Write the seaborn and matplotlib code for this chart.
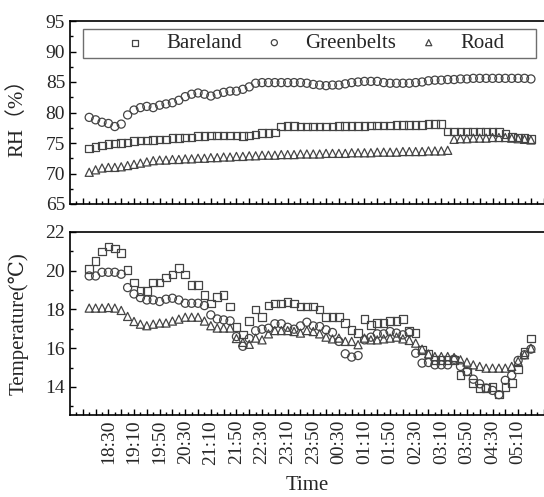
import matplotlib
matplotlib.use("Agg")
import matplotlib.pyplot as plt
from matplotlib.patches import Rectangle
from matplotlib.ticker import MultipleLocator, FixedLocator
import seaborn as sns
import pandas as pd

# ---------------- data ----------------
times = [f"{(18 + (10 * k) // 60) % 24:02d}:{(10 * k) % 60:02d}" for k in range(70)]
tick_labels = ["18:30", "19:10", "19:50", "20:30", "21:10", "21:50", "22:30", "23:10",
               "23:50", "00:30", "01:10", "01:50", "02:30", "03:10", "03:50", "04:30", "05:10"]
series_names = ["Bareland", "Greenbelts", "Road"]

rh_bareland = [74.1, 74.3, 74.6, 74.8, 74.9, 75.0, 75.1, 75.3, 75.4, 75.4,
               75.5, 75.6, 75.6, 75.8, 75.8, 75.9, 75.9, 76.1, 76.1, 76.2,
               76.2, 76.2, 76.2, 76.2, 76.1, 76.2, 76.4, 76.6, 76.6, 76.7,
               77.7, 77.8, 77.8, 77.7, 77.7, 77.7, 77.7, 77.7, 77.7, 77.8,
               77.8, 77.8, 77.8, 77.8, 77.9, 77.9, 77.9, 77.9, 78.0, 78.0,
               78.0, 78.0, 78.0, 78.1, 78.1, 78.1, 76.9, 76.9, 76.9, 76.9,
               76.9, 76.9, 76.9, 76.9, 76.8, 76.5, 76.0, 75.9, 75.8, 75.7]
rh_greenbelts = [79.2, 78.8, 78.4, 78.2, 77.7, 78.1, 79.6, 80.4, 80.8, 81.0,
                 80.8, 81.2, 81.4, 81.6, 82.0, 82.6, 83.0, 83.2, 83.0, 82.7,
                 83.0, 83.3, 83.5, 83.5, 83.8, 84.2, 84.8, 84.9, 84.9, 84.9,
                 84.9, 84.9, 84.9, 84.9, 84.8, 84.6, 84.5, 84.4, 84.5, 84.5,
                 84.7, 84.9, 85.0, 85.1, 85.1, 85.1, 84.9, 84.8, 84.8, 84.8,
                 84.8, 84.9, 85.0, 85.2, 85.3, 85.3, 85.4, 85.4, 85.5, 85.5,
                 85.6, 85.6, 85.6, 85.6, 85.6, 85.6, 85.6, 85.6, 85.6, 85.5]
rh_road = [70.2, 70.6, 70.9, 71.0, 71.0, 71.1, 71.3, 71.5, 71.7, 71.9,
           72.1, 72.2, 72.2, 72.3, 72.3, 72.4, 72.4, 72.5, 72.5, 72.6,
           72.6, 72.7, 72.7, 72.8, 72.8, 72.9, 72.9, 73.0, 73.0, 73.0,
           73.1, 73.1, 73.1, 73.2, 73.2, 73.2, 73.2, 73.3, 73.3, 73.3,
           73.3, 73.4, 73.4, 73.4, 73.4, 73.5, 73.5, 73.5, 73.5, 73.6,
           73.6, 73.6, 73.6, 73.7, 73.7, 73.7, 73.8, 75.6, 75.7, 75.7,
           75.8, 75.8, 75.8, 75.9, 75.9, 75.9, 75.8, 75.7, 75.6, 75.5]

t_bareland = [20.1, 20.5, 21.0, 21.25, 21.15, 20.9, 20.05, 19.4, 18.95, 18.95,
              19.4, 19.4, 19.65, 19.8, 20.15, 19.8, 19.25, 19.25, 18.75, 18.3,
              18.65, 18.75, 18.15, 17.1, 16.7, 17.4, 18.0, 17.6, 18.2, 18.3,
              18.3, 18.4, 18.3, 18.15, 18.15, 18.15, 18.0, 17.6, 17.6, 17.6,
              17.3, 16.95, 16.8, 17.5, 17.2, 17.3, 17.3, 17.4, 17.4, 17.5,
              16.9, 16.8, 15.9, 15.7, 15.4, 15.4, 15.4, 15.4, 14.6, 14.8,
              14.2, 13.95, 13.95, 14.0, 13.6, 14.0, 14.2, 14.9, 15.8, 16.5]
t_greenbelts = [19.73, 19.73, 19.92, 19.92, 19.92, 19.82, 19.13, 18.8, 18.61, 18.49,
                18.49, 18.41, 18.53, 18.58, 18.49, 18.32, 18.32, 18.32, 18.2, 17.72,
                17.51, 17.46, 17.41, 16.6, 16.1, 16.5, 16.9, 16.98, 17.03, 17.26,
                17.26, 17.08, 16.98, 17.15, 17.34, 17.15, 17.12, 16.95, 16.81, 16.35,
                15.71, 15.54, 15.62, 16.43, 16.57, 16.74, 16.74, 16.86, 16.78, 16.69,
                16.81, 15.74, 15.23, 15.26, 15.14, 15.14, 15.14, 15.43, 15.06, 14.8,
                14.4, 14.16, 13.94, 13.82, 13.6, 14.34, 14.6, 15.37, 15.66, 15.95]
t_road = [18.07, 18.07, 18.07, 18.1, 18.07, 17.95, 17.64, 17.38, 17.24, 17.16,
          17.24, 17.3, 17.3, 17.4, 17.5, 17.6, 17.6, 17.6, 17.4, 17.16,
          17.04, 17.04, 17.04, 16.5, 16.3, 16.2, 16.52, 16.43, 16.74, 16.91,
          16.91, 16.91, 16.86, 16.78, 16.91, 16.86, 16.74, 16.57, 16.48, 16.52,
          16.35, 16.35, 16.18, 16.52, 16.43, 16.43, 16.48, 16.52, 16.57, 16.48,
          16.4, 16.26, 15.95, 15.7, 15.57, 15.57, 15.57, 15.52, 15.4, 15.28,
          15.14, 15.06, 14.97, 14.97, 14.97, 14.97, 15.06, 15.32, 15.66, 16.0]

# ---------------- style ----------------
sns.set_style("ticks")
plt.rcParams["font.family"] = ["Liberation Serif", "DejaVu Serif", "Noto Sans CJK SC"]
plt.rcParams["axes.linewidth"] = 1.2

EDGE = "#444444"
markers = {"Bareland": "s", "Greenbelts": "o", "Road": "^"}
sizes = {"Bareland": 30, "Greenbelts": 34, "Road": 34}

idx = list(range(len(times)))
rh_df = pd.DataFrame({"i": idx * 3,
                      "val": rh_bareland + rh_greenbelts + rh_road,
                      "site": sum([[n] * len(times) for n in series_names], [])})
t_df = pd.DataFrame({"i": idx * 3,
                     "val": t_bareland + t_greenbelts + t_road,
                     "site": sum([[n] * len(times) for n in series_names], [])})

fig = plt.figure(figsize=(5.44, 4.97), dpi=100)
W, H = 544.0, 497.0
ax1 = fig.add_axes([70 / W, 1 - 204 / H, 475 / W, 183 / H])
ax2 = fig.add_axes([70 / W, 1 - 415 / H, 475 / W, 183 / H])

for ax, df in ((ax1, rh_df), (ax2, t_df)):
    for name in series_names:
        sub = df[df["site"] == name]
        sns.scatterplot(data=sub, x="i", y="val", ax=ax, marker=markers[name],
                        s=sizes[name], facecolor="none", edgecolor=EDGE,
                        linewidth=0.9, label=name, legend=False)

major_pos = list(range(-1, 72, 2))
major_lab = [times[p] if 0 <= p < len(times) and times[p] in tick_labels else "" for p in major_pos]

for ax in (ax1, ax2):
    ax.set_xlim(-3, 71.2)
    ax.xaxis.set_major_locator(FixedLocator(major_pos))
    ax.xaxis.set_minor_locator(MultipleLocator(2))
    ax.tick_params(axis="both", which="major", direction="in", length=4, width=1,
                   labelsize=14, top=False, right=False, color="black")
    ax.tick_params(axis="both", which="minor", direction="in", length=2.2, width=1,
                   top=False, right=False, color="black")
    for s in ax.spines.values():
        s.set_color("black")
    ax.set_xlabel("")

ax1.set_xticklabels([""] * len(major_pos))
ax2.set_xticklabels(major_lab, rotation=90)

ax1.set_ylim(65, 95)
ax1.yaxis.set_major_locator(MultipleLocator(5))
ax1.yaxis.set_minor_locator(MultipleLocator(2.5))
ax2.set_ylim(12.55, 22)
ax2.yaxis.set_major_locator(MultipleLocator(2))
ax2.yaxis.set_minor_locator(MultipleLocator(1))

ax1.set_ylabel("RH（%）", fontsize=15)
ax2.set_ylabel("Temperature(℃)", fontsize=15)
ax1.yaxis.set_label_coords(-0.09, 0.5)
ax2.yaxis.set_label_coords(-0.087, 0.5)
ax2.set_xlabel("Time", fontsize=15)
ax2.xaxis.set_label_coords(0.5, -0.335)

# legend box and entries
ax1.add_patch(Rectangle((13 / 475, (204 - 58) / 183), 453 / 475, 29 / 183,
                        transform=ax1.transAxes, facecolor="white",
                        edgecolor="#6e6e6e", linewidth=1.0, zorder=3))
leg = ax1.legend(loc="center left", bbox_to_anchor=(0.115, 0.878), frameon=False,
                 ncol=3, fontsize=15, handlelength=1.0, handletextpad=1.0,
                 columnspacing=1.05, borderaxespad=0, borderpad=0, markerscale=0.75)
leg.set_zorder(4)

fig.savefig("out.png", dpi=100)
